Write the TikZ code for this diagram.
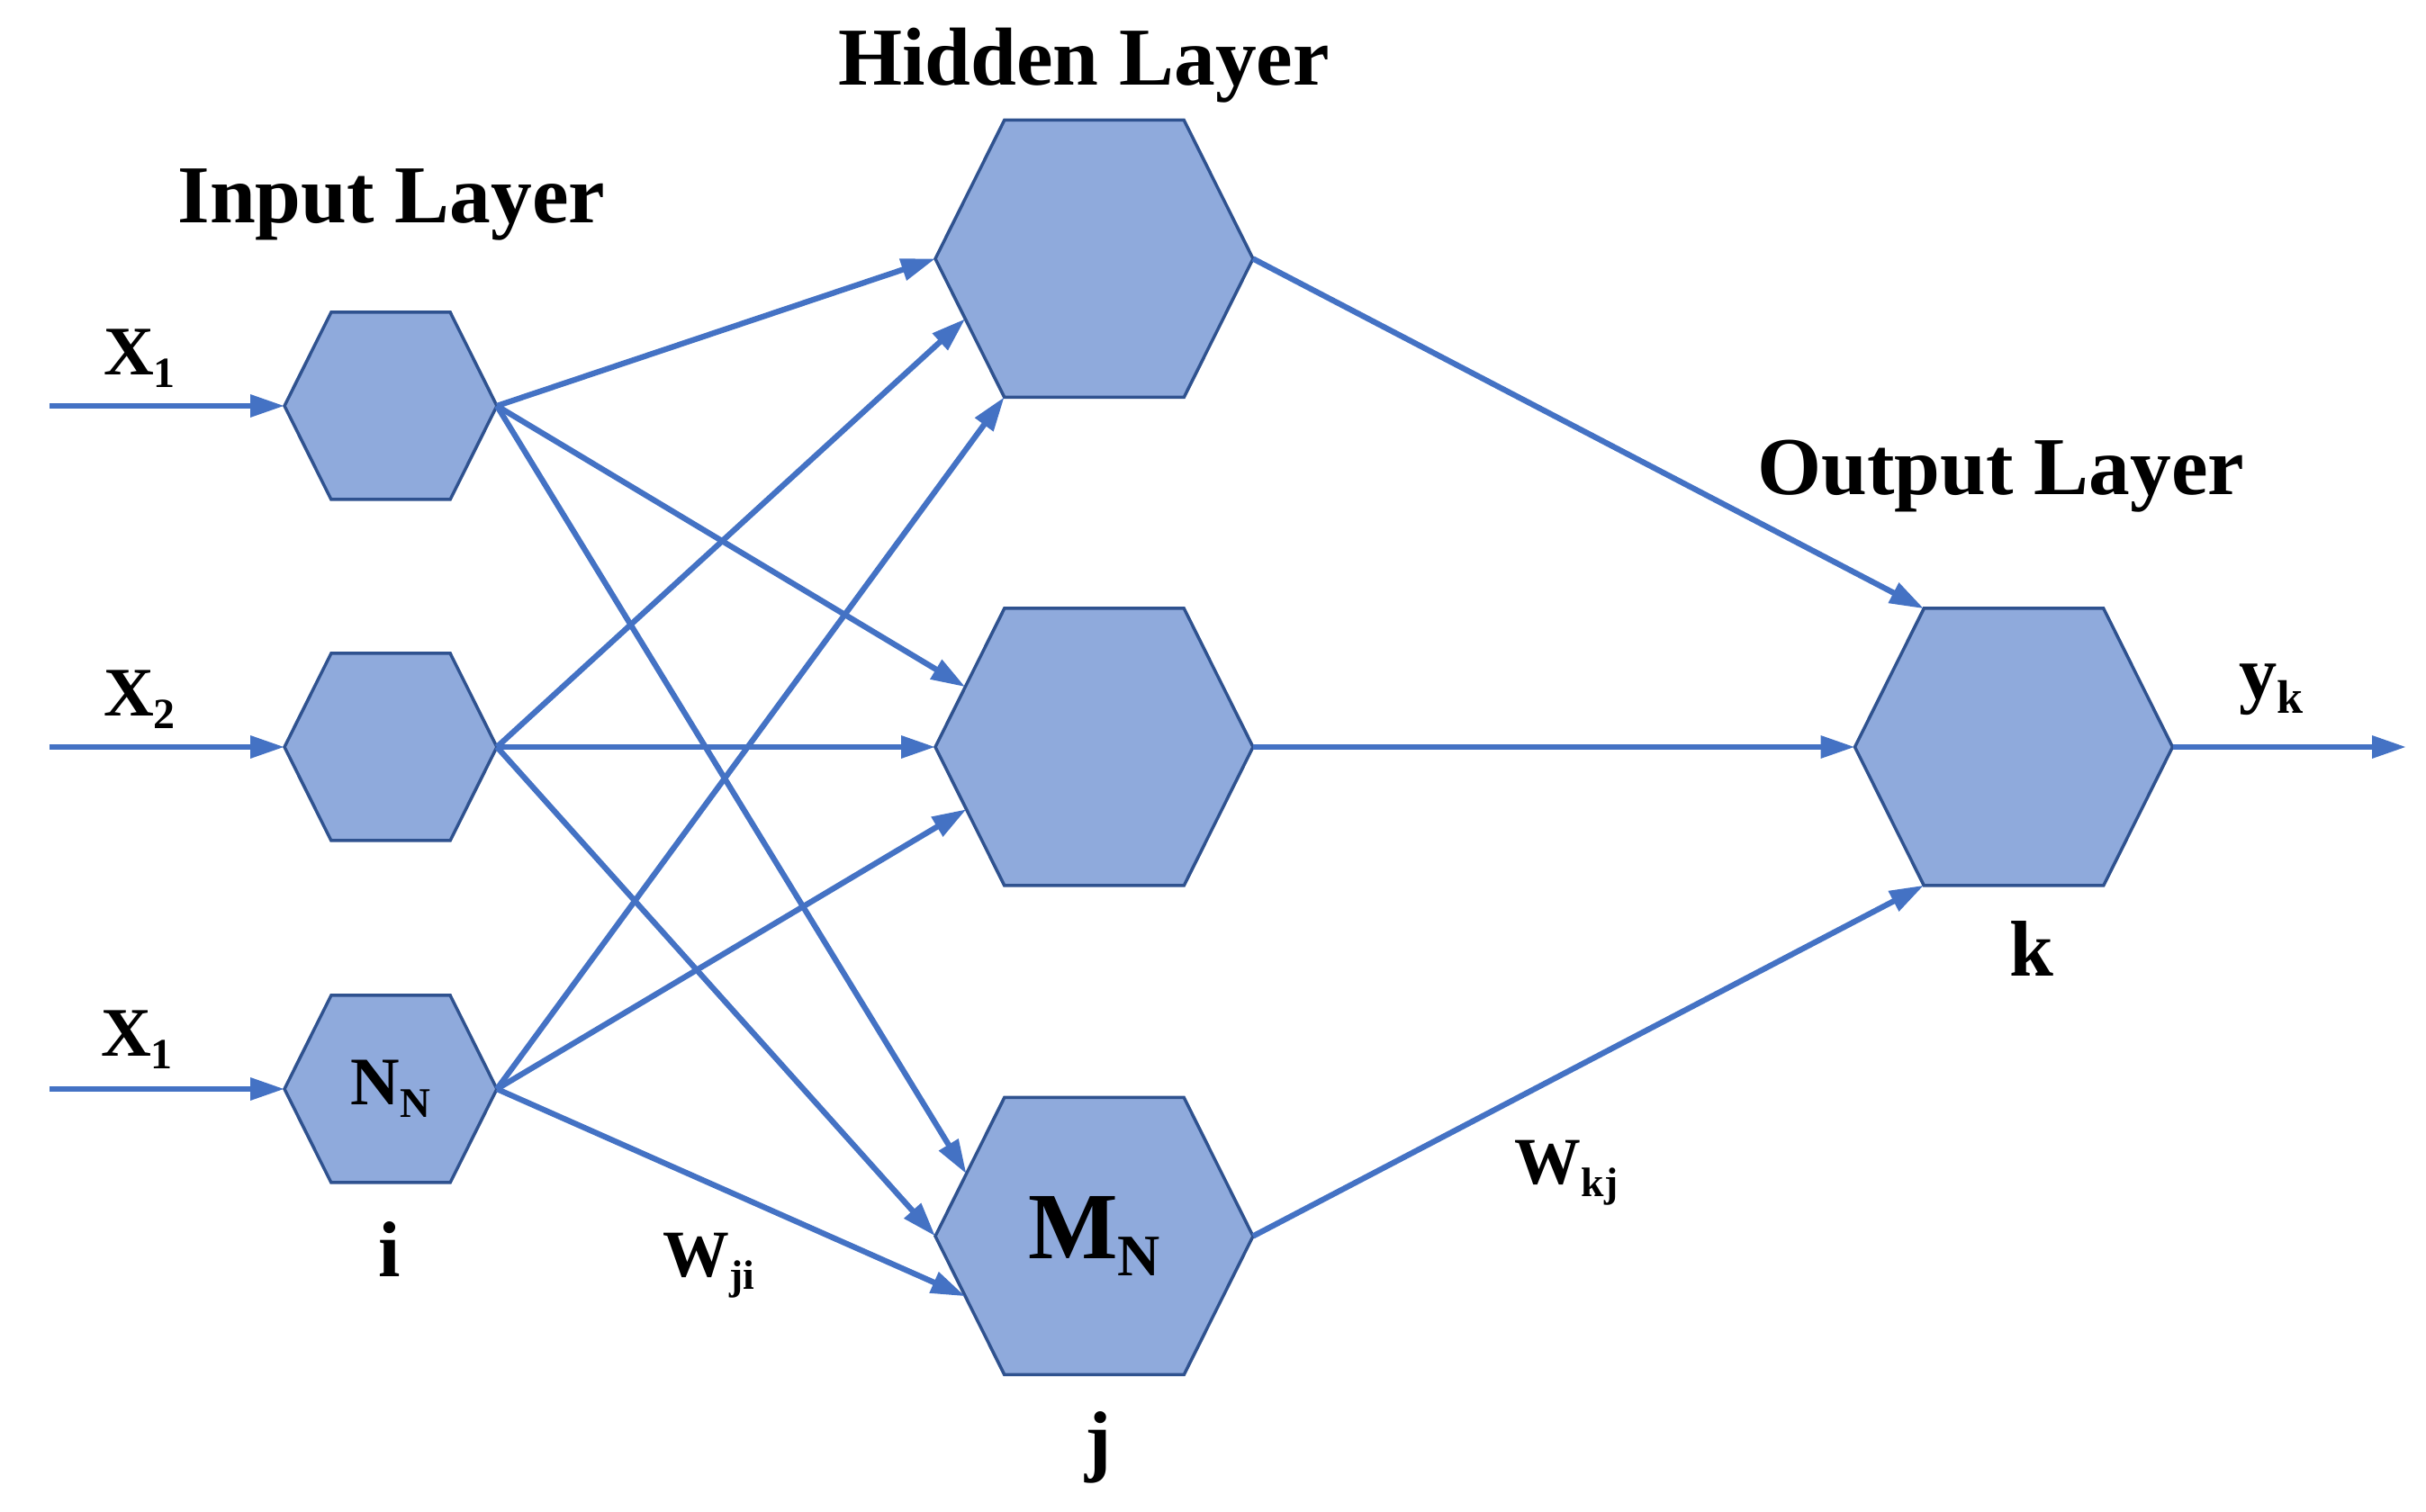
\documentclass[tikz,border=0pt]{standalone}
\usepackage{fontspec}
\setmainfont{Liberation Serif}
\usepackage{graphicx}
\usetikzlibrary{arrows.meta}
\usetikzlibrary{shapes.symbols}
\definecolor{wireblue}{HTML}{4472C4}
\definecolor{hexfill}{HTML}{8FAADC}
\definecolor{hexline}{HTML}{2F528F}
\newcommand{\lsub}[1]{\raisebox{-0.18em}{\scalebox{0.62}{#1}}}
\tikzset{hexsmall/.style={shape=signal, signal to=east and west, signal pointer angle=127,
  draw=hexline, fill=hexfill, line width=1pt, inner sep=0pt, outer sep=0pt,
  minimum width=2.36cm, minimum height=2.08cm}}
\tikzset{hexbig/.style={hexsmall, minimum width=3.53cm, minimum height=3.08cm}}
\tikzset{wire/.style={wireblue, line width=1.8pt, -{Triangle[length=3.8mm,width=2.4mm]}}}
\tikzset{layertitle/.style={anchor=base, font=\fontsize{26}{30}\selectfont\bfseries}}
\tikzset{sig/.style={anchor=base, font=\fontsize{22}{26}\selectfont\bfseries}}
\tikzset{idx/.style={anchor=base, font=\fontsize{25}{28}\selectfont\bfseries}}
\tikzset{wlbl/.style={anchor=base, font=\fontsize{21}{24}\selectfont\bfseries}}

\begin{document}
\begin{tikzpicture}
  \useasboundingbox (0,0) rectangle (26.95,16.8);
  % input layer
  \node [hexsmall] (in1) at (4.34,12.29) {};
  \node [hexsmall] (in2) at (4.34,8.50) {};
  \node [hexsmall, font=\fontsize{21.5}{24}\selectfont\bfseries] (in3) at (4.34,4.70) {N\lsub{N}};
  % hidden layer
  \node [hexbig] (h1) at (12.155,13.925) {};
  \node [hexbig] (h2) at (12.155,8.50) {};
  \node [hexbig, font=\fontsize{30}{34}\selectfont\bfseries] (h3) at (12.155,3.065) {M\lsub{N}};
  % output layer
  \node [hexbig] (out) at (22.37,8.50) {};

  \coordinate (x1) at (0.55,12.29);
  \coordinate (x2) at (0.55,8.50);
  \coordinate (x3) at (0.55,4.70);
  \coordinate (yend) at (26.73,8.50);

  \draw [wire] (x1) -- (in1.west);
  \draw [wire] (x2) -- (in2.west);
  \draw [wire] (x3) -- (in3.west);

  \draw [wire] (in1.east) -- (h1.west);
  \draw [wire] (in1.east) -- (h2.155);
  \draw [wire] (in1.east) -- (h3.154);
  \draw [wire] (in2.east) -- (h1.205);
  \draw [wire] (in2.east) -- (h2.west);
  \draw [wire] (in2.east) -- (h3.west);
  \draw [wire] (in3.east) -- (h1.237);
  \draw [wire] (in3.east) -- (h2.206);
  \draw [wire] (in3.east) -- (h3.205);

  \draw [wire] (h1.east) -- (out.123);
  \draw [wire] (h2.east) -- (out.west);
  \draw [wire] (h3.east) -- (out.237);
  \draw [wire] (out.east) -- (yend);

  \node [layertitle] (ttlin) at (4.35,14.32) {Input Layer};
  \node [layertitle] (ttlhid) at (12.04,15.85) {Hidden Layer};
  \node [layertitle] (ttlout) at (22.23,11.30) {Output Layer};

  \node [sig] (lx1) at (1.55,12.63) {X\lsub{1}};
  \node [sig] (lx2) at (1.55,8.84) {X\lsub{2}};
  \node [sig] (lx3) at (1.52,5.06) {X\lsub{1}};
  \node [idx, font=\fontsize{24}{28}\selectfont\bfseries] (ly) at (25.23,9.03) {y\lsub{k}};

  \node [idx] (li) at (4.33,2.61) {i};
  \node [idx] (lj) at (12.20,0.50) {j};
  \node [idx] (lk) at (22.57,5.95) {k};
  \node [wlbl] (lwji) at (7.875,2.61) {W\lsub{ji}};
  \node [wlbl] (lwkj) at (17.40,3.64) {W\lsub{kj}};
\end{tikzpicture}
\end{document}
